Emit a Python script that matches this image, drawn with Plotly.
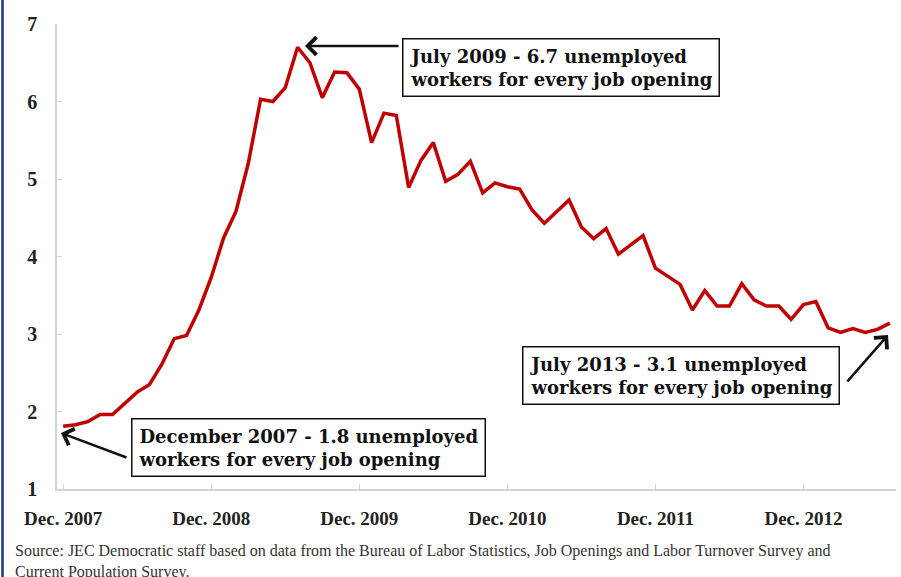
import pandas as pd
import plotly.graph_objects as go

# Unemployed workers per job opening, monthly Dec 2007 - Jul 2013
months = [d.strftime("%b %Y") for d in pd.date_range("2007-12-01", periods=68, freq="MS")]
ratio = [
    1.81, 1.83, 1.87, 1.96, 1.96, 2.11, 2.25, 2.35, 2.61, 2.94, 2.98, 3.31,
    3.73, 4.24, 4.58, 5.20, 6.03, 6.00, 6.18, 6.70, 6.50, 6.05, 6.38, 6.37,
    6.16, 5.47, 5.85, 5.82, 4.89, 5.24, 5.47, 4.97, 5.06, 5.23, 4.82, 4.95,
    4.90, 4.87, 4.60, 4.43, 4.58, 4.73, 4.38, 4.23, 4.36, 4.03, 4.15, 4.27,
    3.85, 3.75, 3.64, 3.31, 3.56, 3.36, 3.36, 3.65, 3.44, 3.36, 3.36, 3.19,
    3.38, 3.42, 3.08, 3.02, 3.07, 3.02, 3.06, 3.14,
]
tick_months = ["Dec 2007", "Dec 2008", "Dec 2009", "Dec 2010", "Dec 2011", "Dec 2012"]
tick_text = ["Dec. 2007", "Dec. 2008", "Dec. 2009", "Dec. 2010", "Dec. 2011", "Dec. 2012"]
y_ticks = [1, 2, 3, 4, 5, 6, 7]

SERIF = "Liberation Serif"
WIDE_SERIF = "DejaVu Serif"
W, H = 901, 577
L, R, T, B = 57, 5, 24, 88
PW, PH = W - L - R, H - T - B


def px(x):
    return (x - L) / PW


def py(y):
    return (H - B - y) / PH


fig = go.Figure()
fig.add_trace(go.Scatter(
    x=months, y=ratio, mode="lines",
    line=dict(color="#c00000", width=3.5),
    showlegend=False, hoverinfo="skip",
))

axis_col = "#d4d4d4"
fig.update_xaxes(
    type="category", range=[-0.5, 67.5], automargin=False,
    showline=True, linecolor=axis_col, linewidth=1.5,
    ticks="inside", ticklen=5, tickcolor=axis_col, tickwidth=1,
    tickvals=tick_months, ticktext=tick_text,
    tickfont=dict(family=SERIF, size=19, color="#222222", weight="bold"),
    ticklabelstandoff=11, showgrid=False, zeroline=False,
)
fig.update_yaxes(
    range=[1, 7], tickvals=y_ticks, automargin=False,
    showline=True, linecolor=axis_col, linewidth=1.5,
    ticks="inside", ticklen=5, tickcolor=axis_col, tickwidth=1,
    tickfont=dict(family=SERIF, size=20, color="#222222", weight="bold"),
    ticklabelstandoff=14, showgrid=False, zeroline=False,
)

box_font = dict(family=WIDE_SERIF, size=18, color="#111111", weight="bold")
boxes = [
    ("July 2009 - 6.7 unemployed<br>workers for every job opening", 561, 67),
    ("December 2007 - 1.8 unemployed<br>workers for every job opening", 308, 447),
    ("July 2013 - 3.1 unemployed<br>workers for every job opening", 681, 375),
]
for text, cx, cy in boxes:
    fig.add_annotation(
        x=px(cx), y=py(cy), xref="paper", yref="paper",
        text=text, showarrow=False, align="left",
        font=box_font, bgcolor="white",
        bordercolor="#111111", borderwidth=1.5, borderpad=6,
        xanchor="center", yanchor="middle",
    )

arrows = [(305, 46, 95, 0), (61, 433, 67, 25), (888, 335, -42, 48)]
for tx, ty, ax, ay in arrows:
    fig.add_annotation(
        x=px(tx), y=py(ty), xref="paper", yref="paper",
        ax=ax, ay=ay, text="", showarrow=True,
        arrowhead=4, arrowsize=1.3, arrowwidth=2.6, arrowcolor="#111111",
    )

fig.add_annotation(
    x=px(13), y=py(540), xref="paper", yref="paper",
    xanchor="left", yanchor="top", align="left", showarrow=False,
    text="Source: JEC Democratic staff based on data from the Bureau of Labor Statistics, Job Openings and Labor Turnover Survey and<br>Current Population Survey.",
    font=dict(family=SERIF, size=16, color="#333333"),
)

fig.add_shape(
    type="line", xref="paper", yref="paper",
    x0=px(2.5), x1=px(2.5), y0=py(-5), y1=py(H + 5),
    line=dict(color="#1f3a7a", width=2.5),
)

fig.update_layout(
    width=W, height=H,
    margin=dict(l=L, r=R, t=T, b=B),
    paper_bgcolor="white", plot_bgcolor="white",
)

fig.write_html(
    "out.html",
    config={"displayModeBar": False},
    post_script="document.body.style.margin='0';document.body.style.overflow='hidden';",
)
